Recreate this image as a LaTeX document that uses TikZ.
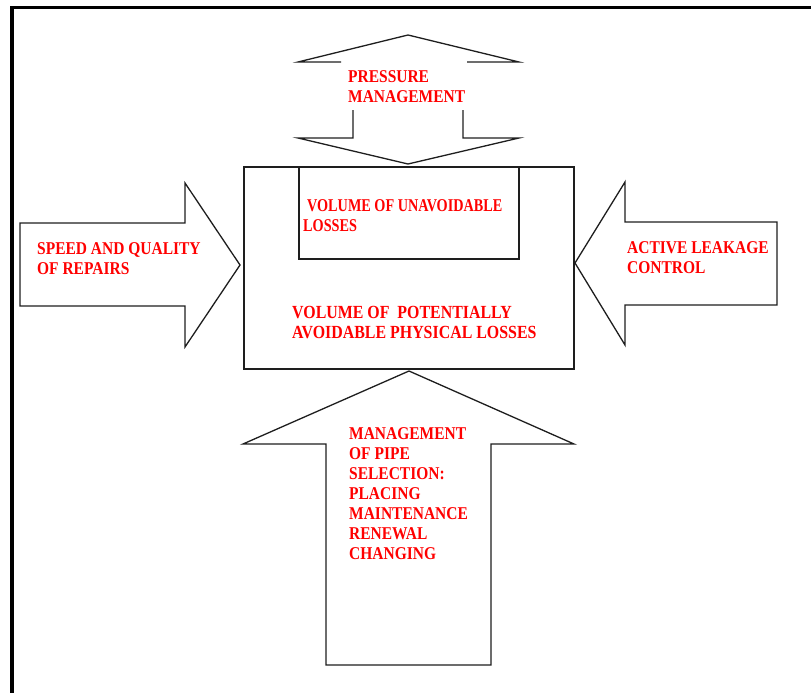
\documentclass[tikz,border=0pt]{standalone}
\usepackage{fontspec}
\setmainfont{Liberation Serif}[FakeStretch=0.86]
\newfontfamily\tightfont{Liberation Serif}[FakeStretch=0.79]
\usetikzlibrary{positioning}
\definecolor{Ink}{HTML}{1E1E1E}
\definecolor{Alarm}{HTML}{FF0000}
\tikzset{
  outline/.style={draw=Ink, line width=1.3pt, line join=miter, fill=white},
  edge/.style={draw=Ink, line width=1.3pt},
  frameline/.style={draw=black, line width=3.6pt},
  lbl/.style={text=Alarm, font=\fontsize{18}{20}\selectfont\bfseries,
              align=left, inner sep=0pt, anchor=base west},
}

\begin{document}
\begin{tikzpicture}[x=1pt, y=-1pt]
  \useasboundingbox (0,0) rectangle (811,693);
  \draw[frameline] (12,693) -- (12,7.5) -- (811,7.5);

  % pressure arrow, both ways
  \draw[edge] (341,62) -- (298,62) -- (408,35) -- (519,62) -- (467,62);
  \draw[edge] (353,110) -- (353,138) -- (298,138) -- (408,164) -- (519,138)
    -- (463,138) -- (463,110);
  \node[lbl] (pressure) at (348,102) {PRESSURE\\MANAGEMENT};

  % side arrows
  \draw[outline] (20,223) -- (185,223) -- (185,183) -- (240,265) -- (185,347)
    -- (185,306) -- (20,306) -- cycle;
  \node[lbl] (repairs) at (37,274) {SPEED AND QUALITY\\OF REPAIRS};

  \draw[outline] (777,222) -- (625,222) -- (625,182) -- (575,263) -- (625,345)
    -- (625,305) -- (777,305) -- cycle;
  \node[lbl] (leakage) at (627,273) {ACTIVE LEAKAGE\\CONTROL};

  % bottom arrow
  \draw[outline] (409,371) -- (574,444) -- (491,444) -- (491,665) -- (326,665)
    -- (326,444) -- (243,444) -- cycle;
  \node[lbl] (pipes) at (349,559) {MANAGEMENT\\OF PIPE\\SELECTION:\\PLACING\\MAINTENANCE\\RENEWAL\\CHANGING};

  % loss volumes
  \draw[outline] (244,167) rectangle (574,369);
  \draw[outline] (299,167) rectangle (519,259);
  \node[lbl, font=\tightfont\fontsize{18}{20}\selectfont\bfseries] (unavoidable) at (303,231)
    {\hspace*{4pt}VOLUME OF UNAVOIDABLE\\LOSSES};
  \node[lbl, font=\fontsize{18.5}{20}\selectfont\bfseries] (avoidable) at (292,338)
    {VOLUME OF~ POTENTIALLY\\AVOIDABLE PHYSICAL LOSSES};
\end{tikzpicture}
\end{document}
